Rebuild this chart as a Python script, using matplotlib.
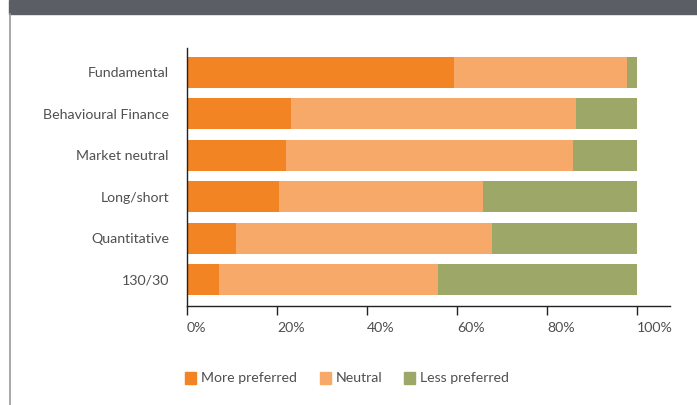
import matplotlib
matplotlib.use("Agg")
import matplotlib.pyplot as plt
from matplotlib.patches import Rectangle
from matplotlib.lines import Line2D
from matplotlib.ticker import FuncFormatter

# Share of respondents per strategy (%)
STRATEGIES = ["Fundamental", "Behavioural Finance", "Market neutral",
              "Long/short", "Quantitative", "130/30"]
MORE_PREFERRED = [59.3, 23.1, 22.0, 20.4, 10.9, 7.1]
NEUTRAL = [38.5, 63.3, 63.8, 45.4, 56.9, 48.6]
LESS_PREFERRED = [2.2, 13.6, 14.2, 34.2, 32.2, 44.3]

SERIES = ["More preferred", "Neutral", "Less preferred"]
COLORS = ["#F38423", "#F7A96A", "#9DA767"]
XTICKS = [0, 20, 40, 60, 80, 100]

TEXT = "#505050"
plt.rcParams["font.family"] = ["Lato", "DejaVu Sans"]
plt.rcParams["font.size"] = 10.2

W, H = 697, 405
fig = plt.figure(figsize=(W / 100, H / 100), dpi=100)

# header band and left rule
fig.patches.append(Rectangle((9 / W, 1 - 14 / H), 1, 14 / H,
                             transform=fig.transFigure, color="#5C5E66", zorder=0))
fig.lines.append(Line2D([9.5 / W, 9.5 / W], [0, 1 - 14 / H],
                        transform=fig.transFigure, color="#9a9a9a", lw=1.2))

ax = fig.add_axes([187 / W, 1 - 306 / H, (670 - 187) / W, (306 - 48) / H])

ypos = list(range(len(STRATEGIES)))
left = [0.0] * len(STRATEGIES)
for name, vals, color in zip(SERIES, [MORE_PREFERRED, NEUTRAL, LESS_PREFERRED], COLORS):
    ax.barh(ypos, vals, left=left, height=0.75, color=color, label=name)
    left = [a + b for a, b in zip(left, vals)]

ax.set_yticks(ypos)
ax.set_yticklabels(STRATEGIES)
ax.set_ylim(len(STRATEGIES) - 0.36, -0.59)
ax.set_xlim(0, 107.3)
ax.set_xticks(XTICKS)
ax.xaxis.set_major_formatter(FuncFormatter(lambda v, p: f"{v:.0f}%"))
for lbl in ax.get_xticklabels():
    lbl.set_ha("left")

ax.tick_params(axis="y", length=0, pad=13, colors=TEXT)
ax.tick_params(axis="x", length=6.5, width=1.0, direction="out", pad=5,
               colors="#222222", labelcolor=TEXT)
for s in ["top", "right"]:
    ax.spines[s].set_visible(False)
for s in ["left", "bottom"]:
    ax.spines[s].set_color("#222222")
    ax.spines[s].set_linewidth(1.0)

# legend drawn as swatches + labels in a row
leg_x = [185, 320, 404]
leg_y = 378
for x, name, color in zip(leg_x, SERIES, COLORS):
    fig.patches.append(Rectangle((x / W, 1 - (leg_y + 6) / H), 11 / W, 12 / H,
                                 transform=fig.transFigure, color=color))
    fig.text((x + 16) / W, 1 - leg_y / H, name, color=TEXT, va="center", ha="left")

fig.savefig("out.png", dpi=100)
